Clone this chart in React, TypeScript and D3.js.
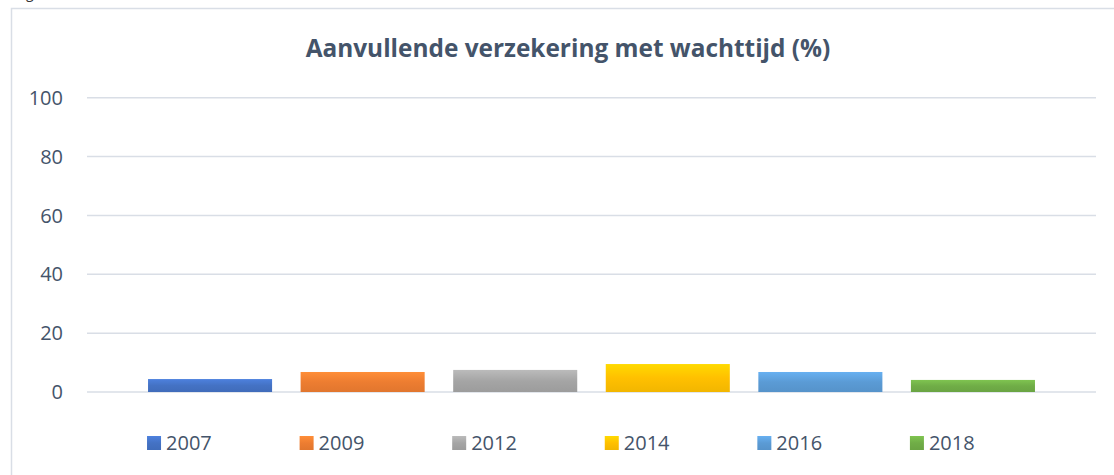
import React, { useEffect, useRef } from "react";
import * as d3 from "d3";

// data
const years = ["2007", "2009", "2012", "2014", "2016", "2018"];
const values = [4.4, 6.8, 7.5, 9.5, 6.8, 4.1];
const colors = ["#4472C4", "#ED7D31", "#A5A5A5", "#FFC000", "#5B9BD5", "#70AD47"];
const yTicks = [0, 20, 40, 60, 80, 100];
const title = "Aanvullende verzekering met wachttijd (%)";

const W = 1114;
const H = 475;
const textColor = "#44546A";
const font = "'Open Sans', 'Noto Sans', sans-serif";

function BarChart() {
  const ref = useRef<SVGSVGElement | null>(null);

  useEffect(() => {
    if (!ref.current) return;
    const svg = d3.select(ref.current);
    svg.selectAll("*").remove();

    const plot = { left: 87, right: 1096, top: 97.7, bottom: 392 };

    // gradients for the bars, lighter at the top
    const defs = svg.append("defs");
    colors.forEach((c, i) => {
      const g = defs
        .append("linearGradient")
        .attr("id", "grad" + i)
        .attr("x1", 0)
        .attr("y1", 0)
        .attr("x2", 0)
        .attr("y2", 1);
      g.append("stop").attr("offset", "0%").attr("stop-color", d3.color(c)!.brighter(0.35).formatHex());
      g.append("stop").attr("offset", "50%").attr("stop-color", c);
      g.append("stop").attr("offset", "100%").attr("stop-color", d3.color(c)!.darker(0.15).formatHex());
    });

    svg.append("rect").attr("width", W).attr("height", H).attr("fill", "#fff");

    // fragment of the surrounding document text (cut off in the reference too)
    svg
      .append("text")
      .attr("x", 26)
      .attr("y", -2)
      .attr("font-family", font)
      .attr("font-size", 14)
      .attr("fill", "#333")
      .text("g");

    // chart border
    svg
      .append("rect")
      .attr("x", 11.5)
      .attr("y", 8.5)
      .attr("width", W + 10)
      .attr("height", H + 10)
      .attr("fill", "none")
      .attr("stroke", "#D9DEE6")
      .attr("stroke-width", 1.5);

    const y = d3.scaleLinear().domain([0, 100]).range([plot.bottom, plot.top]);
    const x = d3
      .scaleBand<string>()
      .domain(years)
      .range([plot.left, plot.right])
      .paddingInner(0.187)
      .paddingOuter(0.4);

    // grid lines
    svg
      .append("g")
      .selectAll("line")
      .data(yTicks)
      .enter()
      .append("line")
      .attr("x1", plot.left)
      .attr("x2", plot.right)
      .attr("y1", (d) => y(d))
      .attr("y2", (d) => y(d))
      .attr("stroke", "#D9DEE6")
      .attr("stroke-width", 1.5);

    // y axis labels
    svg
      .append("g")
      .selectAll("text")
      .data(yTicks)
      .enter()
      .append("text")
      .attr("x", 63)
      .attr("y", (d) => y(d))
      .attr("dy", "0.36em")
      .attr("text-anchor", "end")
      .attr("font-family", font)
      .attr("font-size", 20)
      .attr("fill", textColor)
      .text((d) => d);

    // bars
    svg
      .append("g")
      .selectAll("rect")
      .data(values)
      .enter()
      .append("rect")
      .attr("x", (d, i) => x(years[i])!)
      .attr("width", x.bandwidth())
      .attr("y", (d) => y(d))
      .attr("height", (d) => y(0) - y(d))
      .attr("fill", (d, i) => `url(#grad${i})`);

    // title
    svg
      .append("text")
      .attr("x", 568)
      .attr("y", 57)
      .attr("text-anchor", "middle")
      .attr("font-family", font)
      .attr("font-weight", "bold")
      .attr("font-size", 24.4)
      .attr("fill", textColor)
      .text(title);

    // legend
    const legend = svg
      .append("g")
      .selectAll("g")
      .data(years)
      .enter()
      .append("g")
      .attr("transform", (d) => `translate(${x(d)! - 1},443)`);
    legend
      .append("rect")
      .attr("x", 0)
      .attr("y", -7)
      .attr("width", 14)
      .attr("height", 14)
      .attr("fill", (d, i) => `url(#grad${i})`);
    legend
      .append("text")
      .attr("x", 19)
      .attr("y", 0)
      .attr("dy", "0.36em")
      .attr("font-family", font)
      .attr("font-size", 20)
      .attr("fill", textColor)
      .text((d) => d);
  }, []);

  return (
    <svg
      ref={ref}
      width={W}
      height={H}
      style={{ position: "absolute", left: 0, top: 0, display: "block" }}
    />
  );
}

export default function App() {
  return <BarChart />;
}
